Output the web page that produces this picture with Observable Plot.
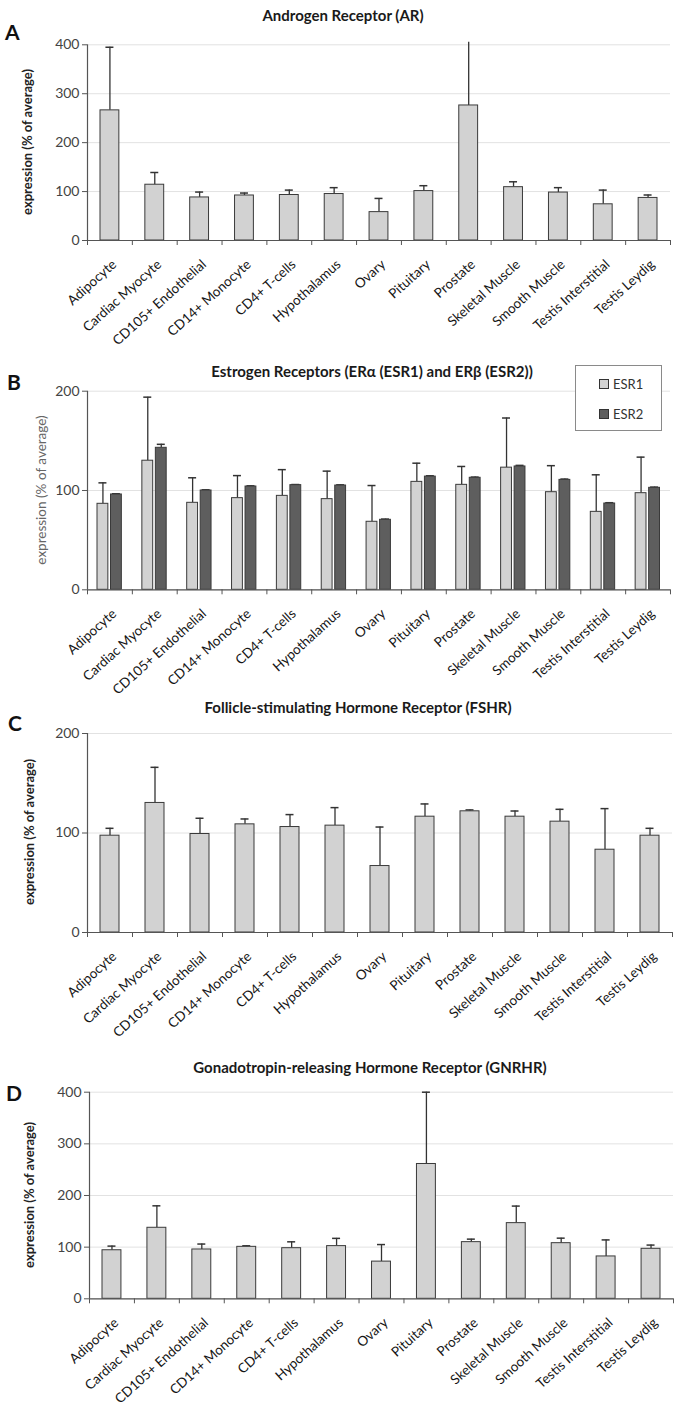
<!DOCTYPE html>
<html><head><meta charset="utf-8">
<script src="https://cdn.jsdelivr.net/npm/d3@7"></script>
<script src="https://cdn.jsdelivr.net/npm/@observablehq/plot@0.6"></script>
<style>
body{margin:0;background:#fff;font-family:Lato,"Open Sans",sans-serif;}
#root{position:relative;width:680px;height:1407px;overflow:hidden;background:#fff;}
.abs{position:absolute;}
.title{font-weight:700;font-size:15px;color:#1a1a1a;transform:translate(-50%,-50%);white-space:nowrap;}
.letter{font-weight:700;font-size:21px;color:#111;transform:translate(0,-50%);}
.ylab{font-weight:700;font-size:13px;color:#222;transform:translate(-50%,-50%) rotate(-90deg);white-space:nowrap;}
.ylab.light{font-weight:400;color:#666;font-size:13.5px;}
.legend{border:1px solid #8a8a8a;background:#fff;box-sizing:border-box;}
.legend .item{position:absolute;font-size:13px;color:#333;display:flex;align-items:center;transform:translate(0,-50%);}
.legend .sw{width:8px;height:8px;border:1px solid #333;margin-right:4px;}
svg{overflow:visible;}
</style></head><body><div id="root"></div>
<script>
const categories = ["Adipocyte","Cardiac Myocyte","CD105+ Endothelial","CD14+ Monocyte","CD4+ T-cells","Hypothalamus","Ovary","Pituitary","Prostate","Skeletal Muscle","Smooth Muscle","Testis Interstitial","Testis Leydig"];

const arMean = [266, 114, 88, 92, 93, 95, 58, 101, 276, 109, 98, 74, 87];
const arErr  = [395, 139, 99, 97, 103, 108, 86, 112, 405, 120, 108, 103, 93];

const seriesNames = ["ESR1", "ESR2"];
const esr1Mean = [86.6, 130, 87.6, 92.3, 94.6, 91.3, 68.5, 108.7, 105.7, 123, 98.3, 78.5, 97.3];
const esr1Err  = [107.7, 194, 112.8, 115, 121, 119.5, 105, 127.5, 124.2, 173, 125, 115.8, 133.6];
const esr2Mean = [96, 143, 100, 104, 105.4, 105, 70.5, 114, 112.8, 124.2, 110.7, 86.9, 102.7];
const esr2Err  = [96.7, 146.5, 100.7, 104.7, 106, 105.7, 71.2, 114.8, 113.5, 125.3, 111.5, 87.7, 103.4];

const fshMean = [97.3, 130.2, 99, 108.7, 106, 107.4, 66.8, 116.4, 121.8, 116.4, 111.4, 83.2, 97.3];
const fshErr  = [104.7, 166, 114.8, 114.1, 118.5, 125.5, 106, 129.2, 123.2, 122.1, 123.8, 124.5, 104.7];

const gnMean = [94, 137.5, 95.5, 100.6, 98, 102, 72, 261, 109.7, 146.5, 107.7, 82, 96.8];
const gnErr  = [102, 180, 106, 102.6, 110.3, 117, 105, 400, 115.5, 179.5, 117.4, 114, 104];

const titles = ["Androgen Receptor (AR)", "Estrogen Receptors (ERα (ESR1) and ERβ (ESR2))", "Follicle-stimulating Hormone Receptor (FSHR)", "Gonadotropin-releasing Hormone Receptor (GNRHR)"];
const letters = ["A", "B", "C", "D"];
const yLabel = "expression (% of average)";

const root = document.getElementById("root");
function addDiv(cls, text, x, y) {
  const d = document.createElement("div");
  d.className = "abs " + cls;
  d.textContent = text;
  d.style.left = x + "px"; d.style.top = y + "px";
  root.appendChild(d);
  return d;
}

function panel(o) {
  const W = 680;
  const n = categories.length;
  const bandPx = (W - o.ml - o.mr) / n;
  const capHalf = 4 / bandPx;
  const marks = [
    Plot.gridY(o.ticks, {stroke: "#e2e2e2", strokeOpacity: 1}),
  ];
  for (const s of o.series) {
    const rows = categories.map((c, i) => ({c, i, v: s.values[i], e: s.errs[i]}));
    marks.push(
      Plot.ruleX(rows, {x: d => d.i + 0.5, y1: "v", y2: "e", dx: s.dx, stroke: "#333", strokeWidth: 1.3}),
      Plot.ruleY(rows.filter(d => d.e <= o.ymax), {y: "e", x1: d => d.i + 0.5 - capHalf, x2: d => d.i + 0.5 + capHalf, dx: s.dx, stroke: "#333", strokeWidth: 1.5}),
      Plot.rectY(rows, {x1: d => d.i, x2: d => d.i + 1, y: "v", insetLeft: s.il, insetRight: s.ir, fill: s.fill, stroke: "#3a3a3a", strokeWidth: 1})
    );
  }
  const labRows = categories.map((c, i) => ({c, i}));
  marks.push(
    Plot.ruleY([0], {stroke: "#555", strokeWidth: 1.2}),
    Plot.ruleX([0], {stroke: "#555", strokeWidth: 1.2}),
    Plot.axisX({ticks: d3.range(n + 1), tickSize: 5, tickFormat: () => "", stroke: "#555"}),
    Plot.axisY({ticks: o.ticks, tickSize: 5, tickPadding: 3, fontSize: 14, fill: "#444", stroke: "#555", label: null}),
    Plot.text(labRows, {x: d => d.i + 0.5, y: 0, text: "c", rotate: -42, textAnchor: "end", lineAnchor: "top", dy: 18, dx: 1, fontSize: 13.5, fill: "#161616"})
  );
  const svg = Plot.plot({
    width: W,
    height: o.mt + o.plotH + o.mb,
    marginTop: o.mt, marginBottom: o.mb, marginLeft: o.ml, marginRight: o.mr,
    x: {type: "linear", domain: [0, n], axis: null},
    y: {domain: [0, o.ymax], axis: null},
    style: {fontFamily: "Lato, 'Open Sans', sans-serif", background: "transparent", overflow: "visible"},
    marks
  });
  svg.style.position = "absolute";
  svg.style.left = "0px";
  svg.style.top = o.top + "px";
  root.appendChild(svg);
}

const single = (values, errs) => [{values, errs, fill: "#d2d2d2", il: 13, ir: 13, dx: 0}];

panel({top: 0, mt: 44.3, plotH: 195.7, mb: 100, ml: 87, mr: 10, ymax: 400, ticks: [0,100,200,300,400], series: single(arMean, arErr)});
panel({top: 350, mt: 40.7, plotH: 198.6, mb: 100, ml: 87, mr: 10, ymax: 200, ticks: [0,100,200], series: [
  {values: esr1Mean, errs: esr1Err, fill: "#d2d2d2", il: 10, ir: 24, dx: -7},
  {values: esr2Mean, errs: esr2Err, fill: "#5e5e5e", il: 23.5, ir: 10.5, dx: 6.5}
]});
panel({top: 690, mt: 43, plotH: 199, mb: 100, ml: 87, mr: 8, ymax: 200, ticks: [0,100,200], series: single(fshMean, fshErr)});
panel({top: 1040, mt: 51.7, plotH: 206.6, mb: 100, ml: 89, mr: 7, ymax: 400, ticks: [0,100,200,300,400], series: single(gnMean, gnErr)});

// titles, letters, y labels
addDiv("title", titles[0], 343, 15);
addDiv("title", titles[1], 372, 371);
addDiv("title", titles[2], 358, 707);
addDiv("title", titles[3], 370, 1067);
addDiv("letter", letters[0], 5, 31);
addDiv("letter", letters[1], 7, 381);
addDiv("letter", letters[2], 8, 722);
addDiv("letter", letters[3], 6, 1092);
addDiv("ylab", yLabel, 27, 142);
addDiv("ylab light", yLabel, 41, 490);
addDiv("ylab", yLabel, 29, 832);
addDiv("ylab", yLabel, 29, 1195);

// legend
const lg = addDiv("legend", "", 575, 365);
lg.style.width = "87px"; lg.style.height = "66px";
const legendFills = ["#d2d2d2", "#5e5e5e"];
seriesNames.forEach((name, k) => {
  const it = document.createElement("div");
  it.className = "item";
  it.style.left = "23px";
  it.style.top = (k === 0 ? 17.7 : 48.3) + "px";
  const sw = document.createElement("span");
  sw.className = "sw"; sw.style.background = legendFills[k];
  it.appendChild(sw);
  it.appendChild(document.createTextNode(name));
  lg.appendChild(it);
});
</script></body></html>
